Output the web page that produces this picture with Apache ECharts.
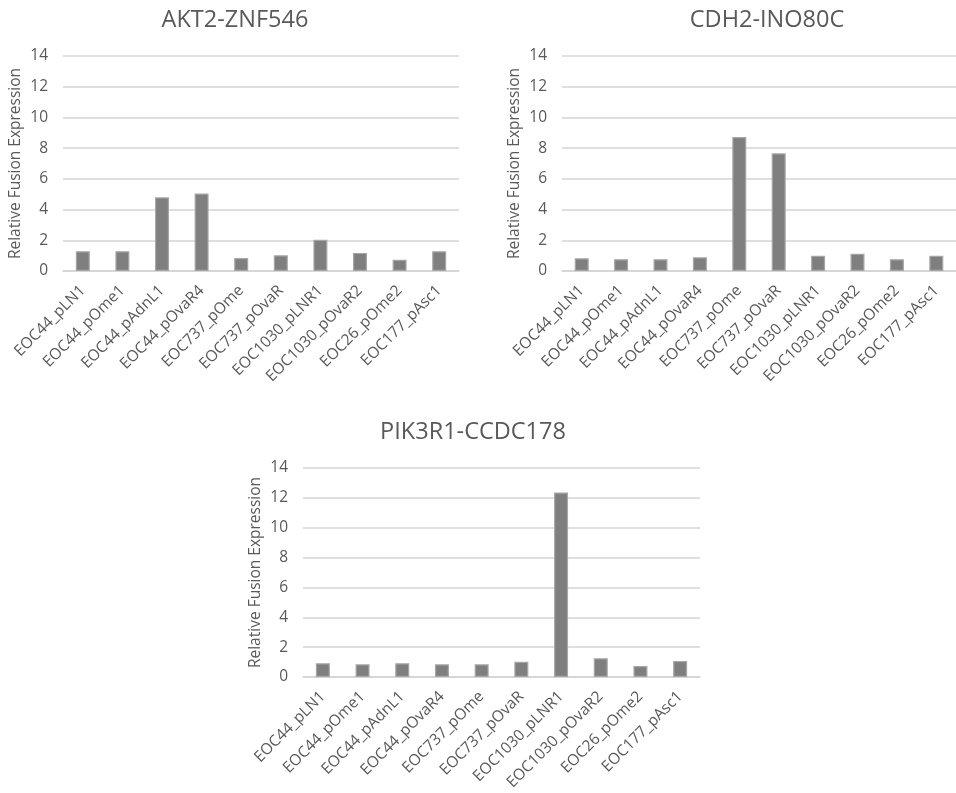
<!DOCTYPE html>
<html>
<head>
<meta charset="utf-8">
<script src="https://cdn.jsdelivr.net/npm/echarts@6/dist/echarts.min.js"></script>
<style>
  html, body { margin: 0; padding: 0; background: #ffffff; }
  #chart { width: 956px; height: 793px; }
</style>
</head>
<body>
<div id="chart"></div>
<script>
// Samples shared by all three panels
const samples = [
  'EOC44_pLN1', 'EOC44_pOme1', 'EOC44_pAdnL1', 'EOC44_pOvaR4', 'EOC737_pOme',
  'EOC737_pOvaR', 'EOC1030_pLNR1', 'EOC1030_pOvaR2', 'EOC26_pOme2', 'EOC177_pAsc1'
];

// Relative fusion expression per fusion gene
const akt2Znf546 = [1.29, 1.29, 4.8, 5.05, 0.85, 1.02, 2.03, 1.18, 0.74, 1.29];
const cdh2Ino80c = [0.83, 0.77, 0.77, 0.89, 8.72, 7.66, 1.0, 1.13, 0.77, 1.0];
const pik3r1Ccdc178 = [0.92, 0.85, 0.92, 0.85, 0.85, 1.02, 12.36, 1.26, 0.74, 1.07];

const panelTitles = ['AKT2-ZNF546', 'CDH2-INO80C', 'PIK3R1-CCDC178'];
const yTicks = [0, 2, 4, 6, 8, 10, 12, 14];
const yAxisName = 'Relative Fusion Expression';

const FONT = '"Open Sans", "DejaVu Sans", sans-serif';
const TEXT = '#595959';
const GRID_LINE = '#d4d4d4';

const grids = [
  { left: 63, top: 56, width: 396, height: 215 },
  { left: 562, top: 56, width: 396, height: 215 },
  { left: 303, top: 468, width: 397, height: 214 }
];
const titlePos = [
  { left: 230, top: 3 },
  { left: 762, top: 3 },
  { left: 468, top: 415 }
];
const seriesData = [akt2Znf546, cdh2Ino80c, pik3r1Ccdc178];

const option = {
  backgroundColor: '#ffffff',
  animation: false,
  title: panelTitles.map((t, i) => ({
    text: t,
    left: titlePos[i].left,
    top: titlePos[i].top,
    textAlign: 'center',
    textStyle: { fontFamily: FONT, fontSize: 23.5, fontWeight: 'normal', color: TEXT }
  })),
  grid: grids.map(g => Object.assign({ containLabel: false }, g)),
  xAxis: grids.map((g, i) => ({
    type: 'category',
    gridIndex: i,
    data: samples,
    axisLine: { show: true, lineStyle: { color: GRID_LINE, width: 1.5 } },
    axisTick: { show: false },
    axisLabel: {
      interval: 0, rotate: 45, margin: 17,
      fontFamily: FONT, fontSize: 15.5, color: TEXT
    }
  })),
  yAxis: grids.map((g, i) => ({
    type: 'value',
    gridIndex: i,
    min: yTicks[0],
    max: yTicks[yTicks.length - 1],
    interval: yTicks[1] - yTicks[0],
    name: yAxisName,
    nameLocation: 'middle',
    nameGap: 39,
    nameTextStyle: { fontFamily: FONT, fontSize: 15.5, color: TEXT },
    axisLine: { show: false },
    axisTick: { show: false },
    axisLabel: { margin: 15, fontFamily: FONT, fontSize: 15.5, color: TEXT },
    splitLine: { show: true, lineStyle: { color: GRID_LINE, width: 1.5 } }
  })),
  series: seriesData.map((d, i) => ({
    type: 'bar',
    xAxisIndex: i,
    yAxisIndex: i,
    data: d,
    barWidth: 14,
    itemStyle: { color: '#7f7f7f', borderColor: '#a6a6a6', borderWidth: 1.2 }
  }))
};

const chart = echarts.init(document.getElementById('chart'), null, { renderer: 'canvas' });
chart.setOption(option);
</script>
</body>
</html>
